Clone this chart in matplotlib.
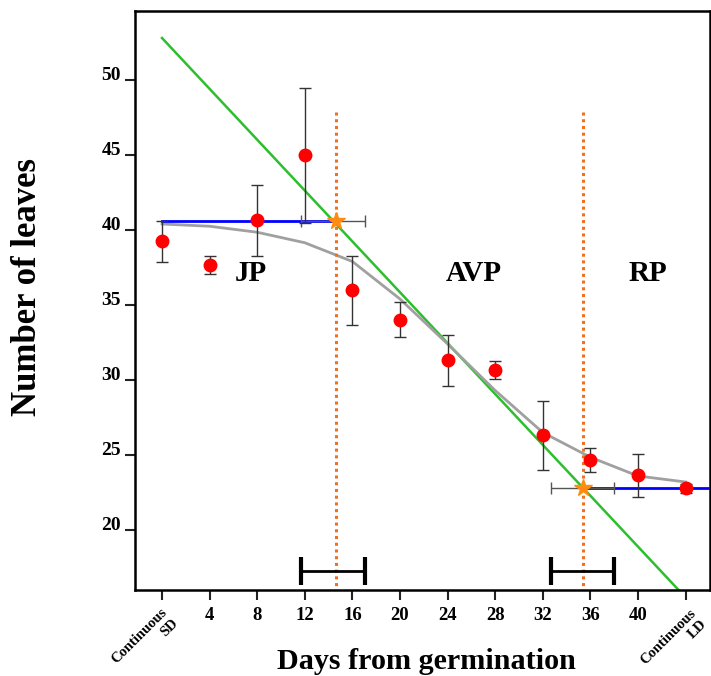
import matplotlib.pyplot as plt

plt.rcParams['font.family'] = ['Liberation Serif', 'DejaVu Serif']
plt.rcParams['font.weight'] = 'bold'

days = [0, 4, 8, 12, 16, 20, 24, 28, 32, 36, 40, 44]
leaves = [39.3, 37.65, 40.7, 45.0, 36.0, 34.0, 31.35, 30.7, 26.35, 24.7, 23.65, 22.8]
err_lo = [37.9, 37.1, 38.3, 40.5, 33.7, 32.9, 29.6, 30.1, 24.0, 23.9, 22.2, 22.5]
err_hi = [40.6, 38.3, 43.0, 49.5, 38.3, 35.2, 33.0, 31.3, 28.6, 25.5, 25.1, 23.1]
fit_y = [40.4, 40.25, 39.85, 39.15, 37.9, 35.4, 32.4, 29.3, 26.5, 24.85, 23.6, 23.2]

# three phase model
jp_level = 40.6
rp_level = 22.8
line_x = [0, 44]
line_y = [52.8, 15.5]
breaks = [14.6, 35.4]
break_lo = [11.7, 32.7]
break_hi = [17.1, 38.0]
xticks = [0, 4, 8, 12, 16, 20, 24, 28, 32, 36, 40, 44]
xticklabels = ['', '4', '8', '12', '16', '20', '24', '28', '32', '36', '40', '']
yticks = [20, 25, 30, 35, 40, 45, 50]
phases = ['JP', 'AVP', 'RP']
phase_x = [7.5, 26.2, 40.8]

fig = plt.figure(figsize=(7.11, 6.76), dpi=100)
ax = fig.add_axes([135/711, 1-590/676, 575/711, 579/676])
ax.set_xlim(-2.27, 46.05)
ax.set_ylim(16.0, 54.6)

ax.plot(line_x, line_y, color='#2dbe2d', lw=1.8, zorder=2)
ax.plot(days, fit_y, color='#a0a0a0', lw=2, zorder=2)
ax.plot([0, breaks[0]], [jp_level, jp_level], color='#0000ff', lw=2, zorder=3)
ax.plot([breaks[1], 47], [rp_level, rp_level], color='#0000ff', lw=2, zorder=3)

for b in breaks:
    ax.plot([b, b], [47.9, 16.0], color='#f07020', lw=2.2, ls=(0, (1, 1.2)), zorder=2)

yerr = [[l - e for l, e in zip(leaves, err_lo)], [e - l for l, e in zip(leaves, err_hi)]]
ax.errorbar(days, leaves, yerr=yerr, fmt='o', color='#ff0000', ms=9,
            ecolor='#333333', elinewidth=1, capsize=4, capthick=1, zorder=4)

stars_y = [jp_level, rp_level]
ax.errorbar(breaks, stars_y,
            xerr=[[b - lo for b, lo in zip(breaks, break_lo)], [hi - b for b, hi in zip(breaks, break_hi)]],
            fmt='none', ecolor='#555555', elinewidth=1, capsize=4, zorder=3)
ax.plot(breaks, stars_y, '*', color='#ff8c10', ms=13, zorder=5)

for lo, hi in zip(break_lo, break_hi):
    ax.errorbar([(lo + hi) / 2], [17.3], xerr=[(hi - lo) / 2], fmt='none',
                ecolor='black', elinewidth=2, capsize=10, capthick=3, zorder=3)

for name, px in zip(phases, phase_x):
    ax.text(px, 37.1, name, fontsize=21, fontweight='bold', ha='center', va='center')

ax.set_xticks(xticks)
ax.set_xticklabels(xticklabels, fontsize=13.5, fontweight='bold')
ax.set_yticks(yticks)
ax.set_yticklabels([str(v) for v in yticks], fontsize=14, fontweight='bold')
for lab in ax.get_yticklabels():
    lab.set_va('baseline')
ax.tick_params(axis='both', direction='out', length=7, width=1.5, color='#222222')
ax.tick_params(axis='x', pad=5)
ax.tick_params(axis='y', pad=3)
for s in ax.spines.values():
    s.set_linewidth(1.8)

ax.text(-0.1, 14.95, 'Continuous\nSD', rotation=45, fontsize=10.5, fontweight='bold',
        ha='right', va='top', multialignment='right', rotation_mode='anchor')
ax.text(44.3, 14.9, 'Continuous\nLD', rotation=45, fontsize=10.5, fontweight='bold',
        ha='right', va='top', multialignment='right', rotation_mode='anchor')

ax.set_ylabel('Number of leaves', fontsize=25, fontweight='bold')
ax.yaxis.set_label_coords(-0.158, (590 - 287) / 579)
fig.text(426/711, 1-669/676, 'Days from germination', fontsize=21.7, fontweight='bold',
         ha='center', va='baseline')

fig.savefig('out.png', dpi=100)
